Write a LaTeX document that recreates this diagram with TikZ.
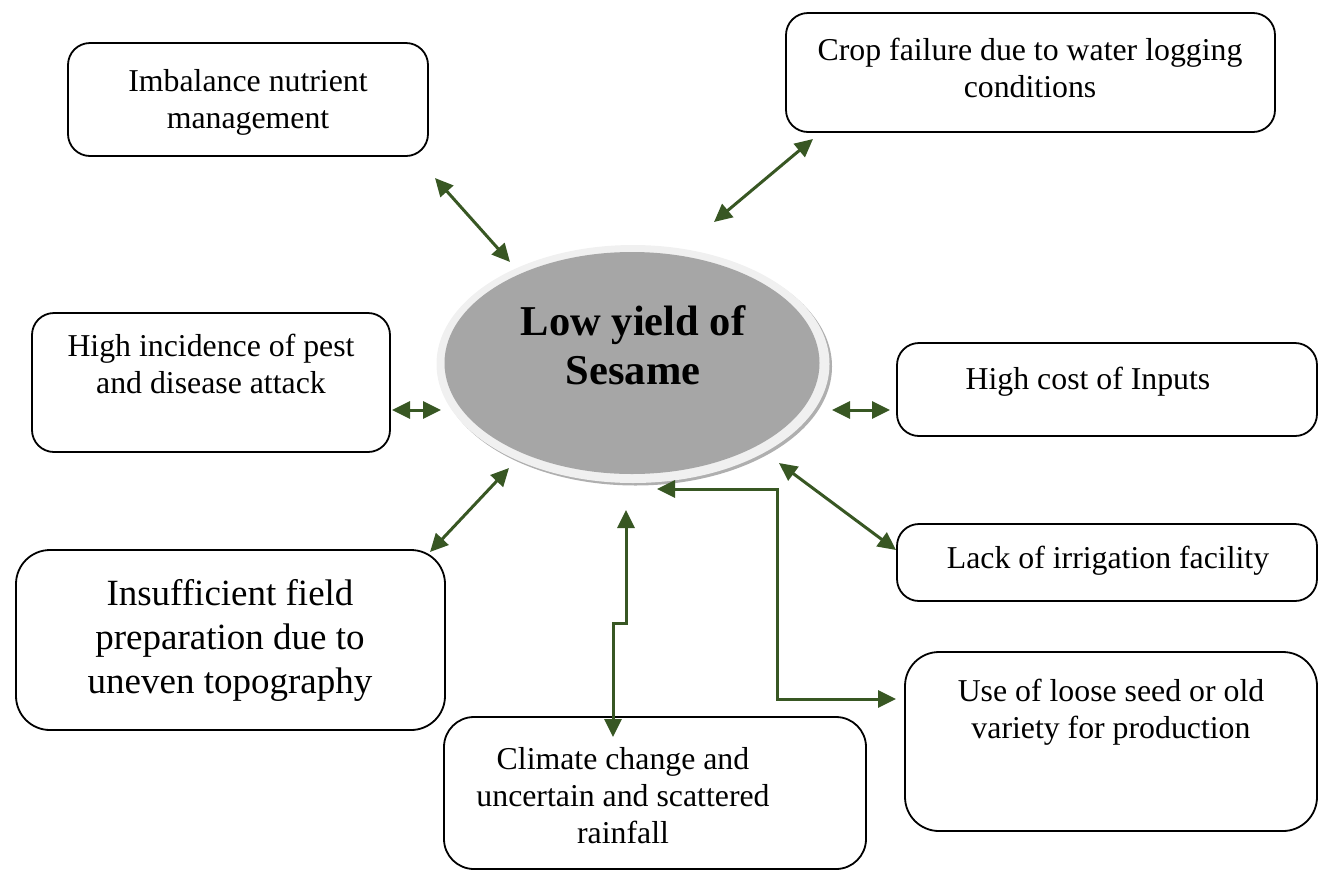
\documentclass[tikz,border=0pt]{standalone}
\usepackage{fontspec}
\setmainfont{Liberation Serif}
\usetikzlibrary{arrows.meta,shapes.geometric}
\definecolor{arrgreen}{RGB}{56,87,35}
\definecolor{ellgray}{RGB}{166,166,166}
\definecolor{ringgray}{RGB}{240,240,240}
\definecolor{shadowgray}{RGB}{175,175,175}
\tikzset{
  box/.style={draw=black, line width=1.8pt, rounded corners=22pt, inner sep=0pt},
  bigbox/.style={box, rounded corners=34pt},
  txt/.style={align=center, inner sep=0pt, font=\fontsize{31.8}{37}\selectfont},
  bigtxt/.style={align=center, inner sep=0pt, font=\fontsize{37}{44}\selectfont},
  conn/.style={draw=arrgreen, line width=3pt, {Triangle[length=18pt,width=17pt]}-{Triangle[length=18pt,width=17pt]}},
}
\begin{document}
\begin{tikzpicture}[x=1pt,y=-1pt]
\useasboundingbox (0,0) rectangle (1319,871);
% central ellipse
\fill[shadowgray] (635.5,366.5) ellipse [x radius=196.5, y radius=119];
\fill[ringgray] (633,364) ellipse [x radius=196.5, y radius=119];
\node[ellipse, fill=ellgray, minimum width=375, minimum height=222, inner sep=0pt] (core) at (632,363) {};
\node[align=center, inner sep=0pt, font=\fontsize{42.5}{49}\selectfont\bfseries] (coretxt) at (633,345) {Low yield of\\Sesame};
% boxes
\node[box, minimum width=360, minimum height=113] (b1) at (248,99.5) {};
\node[box, minimum width=489, minimum height=119] (b2) at (1030.5,72.5) {};
\node[box, minimum width=358, minimum height=139] (b3) at (211,382.5) {};
\node[box, minimum width=420, minimum height=93] (b4) at (1107,389.5) {};
\node[box, minimum width=420, minimum height=77] (b5) at (1107,562.5) {};
\node[bigbox, minimum width=429, minimum height=180] (b6) at (230.5,640) {};
\node[bigbox, minimum width=412, minimum height=179] (b7) at (1111,741.5) {};
\node[box, rounded corners=30pt, minimum width=422, minimum height=152] (b8) at (655,793) {};
% texts
\node[txt] (t1) at (248,102) {Imbalance nutrient\\management};
\node[txt] (t2) at (1030,68) {Crop failure due to water logging\\conditions};
\node[txt] (t3) at (211,364) {High incidence of pest\\and disease attack};
\node[txt] (t4) at (1088,382) {High cost of Inputs};
\node[txt] (t5) at (1108,561) {Lack of irrigation facility};
\node[bigtxt] (t6) at (230,640) {Insufficient field\\preparation due to\\uneven topography};
\node[txt] (t7) at (1111,712) {Use of loose seed or old\\variety for production};
\node[txt] (t8) at (623,796) {Climate change and\\uncertain and scattered\\rainfall};
% connector end points
\coordinate (a1) at (435,178); \coordinate (a2) at (510,262);
\coordinate (c1) at (714,222); \coordinate (c2) at (813,139);
\coordinate (p1) at (392,410); \coordinate (p2) at (441,410);
\coordinate (h1) at (832,410); \coordinate (h2) at (890,410);
\coordinate (i1) at (430,552); \coordinate (i2) at (509,468);
\coordinate (l1) at (779,463); \coordinate (l2) at (896,550);
\coordinate (u1) at (657,489); \coordinate (u2) at (896,699);
\coordinate (w1) at (626,510); \coordinate (w2) at (613,737);
% connectors
\draw[conn] (a1) -- (a2);
\draw[conn] (c1) -- (c2);
\draw[conn] (p1) -- (p2);
\draw[conn] (h1) -- (h2);
\draw[conn] (i1) -- (i2);
\draw[conn] (l1) -- (l2);
\draw[conn] (u1) -- (777,489) -- (777,699) -- (u2);
\draw[conn] (w1) -- (626,623) -- (613,623) -- (w2);
\end{tikzpicture}
\end{document}
